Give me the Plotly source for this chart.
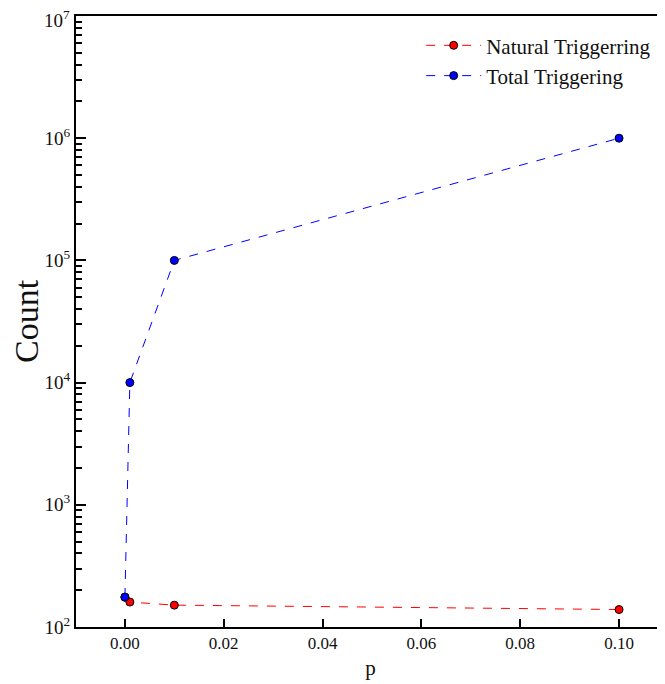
import plotly.graph_objects as go

p_natural = [0.0, 0.001, 0.01, 0.1]
count_natural = [175, 160, 151, 139]
p_total = [0.0, 0.001, 0.01, 0.1]
count_total = [176, 1e4, 1e5, 1e6]

y_tickvals = [1e2, 1e3, 1e4, 1e5, 1e6, 1e7]
y_ticktext = ["10<sup>2</sup>", "10<sup>3</sup>", "10<sup>4</sup>", "10<sup>5</sup>", "10<sup>6</sup>", ""]
top_label = "10<sup>7</sup>"
x_tickvals = [0, 0.02, 0.04, 0.06, 0.08, 0.1]

FONT = "Liberation Serif, Times New Roman, serif"

fig = go.Figure()
fig.add_trace(go.Scatter(
    x=p_natural, y=count_natural, mode="lines+markers", name="Natural Triggerring",
    line=dict(color="red", width=1, dash="dash"),
    marker=dict(color="red", size=8, line=dict(color="black", width=1)),
))
fig.add_trace(go.Scatter(
    x=p_total, y=count_total, mode="lines+markers", name="Total Triggering",
    line=dict(color="blue", width=1, dash="dash"),
    marker=dict(color="blue", size=8, line=dict(color="black", width=1)),
))

fig.add_annotation(
    text=top_label, xref="paper", yref="paper", x=0, y=1,
    xanchor="right", yanchor="middle", xshift=-4, yshift=-3,
    showarrow=False, font=dict(size=19, family=FONT, color="#111"),
)

fig.update_layout(
    width=657, height=676,
    margin=dict(l=68, r=0, t=8, b=57, autoexpand=False),
    paper_bgcolor="white", plot_bgcolor="white",
    font=dict(family=FONT, size=16, color="#111"),
    showlegend=True,
    legend=dict(x=0.985, y=0.985, xanchor="right", yanchor="top",
                font=dict(size=21, family=FONT, color="#111"),
                bgcolor="rgba(0,0,0,0)", itemwidth=55, tracegroupgap=0),
    xaxis=dict(
        range=[-0.0099, 0.1093], tickvals=x_tickvals,
        tickformat=".2f", ticks="inside", ticklen=8, tickwidth=2, tickcolor="black",
        showline=True, linecolor="black", linewidth=2, mirror=True,
        showgrid=False, zeroline=False, automargin=False,
        title=dict(text="p", font=dict(size=21, family=FONT), standoff=8),
        tickfont=dict(size=17, family=FONT),
    ),
    yaxis=dict(
        type="log", range=[2, 7], tickvals=y_tickvals, ticktext=y_ticktext,
        ticks="inside", ticklen=10, tickwidth=2, tickcolor="black",
        showline=True, linecolor="black", linewidth=2, mirror=False,
        showgrid=False, zeroline=False, automargin=False,
        minor=dict(ticks="inside", ticklen=6, tickwidth=1.5, tickcolor="black",
                   showgrid=False, dtick="D1"),
        title=dict(text="Count", font=dict(size=34, family=FONT), standoff=12),
        tickfont=dict(size=19, family=FONT),
    ),
)

fig.write_html("out.html")
